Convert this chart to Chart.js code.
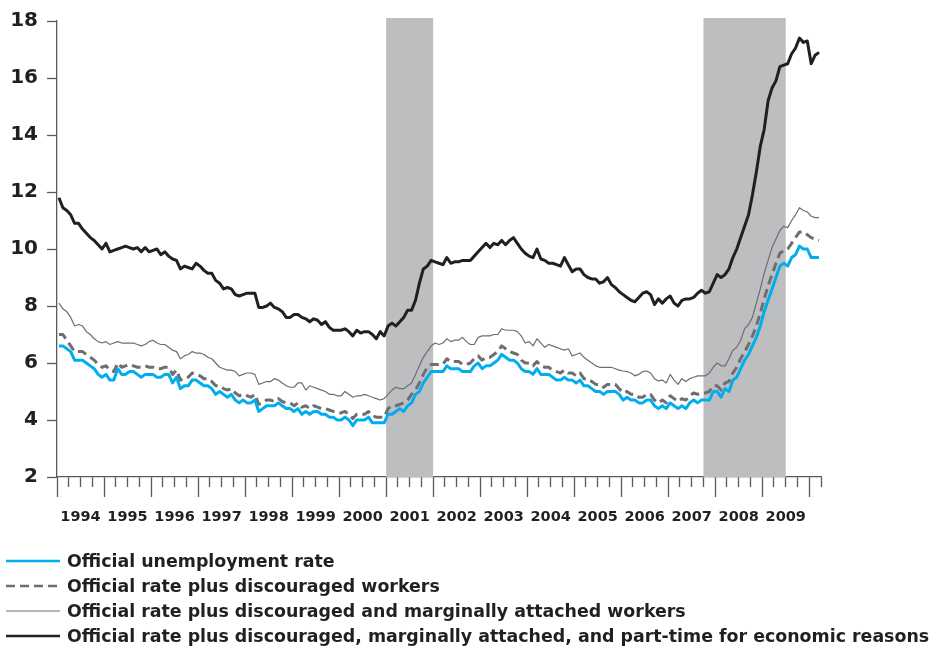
<!DOCTYPE html>
<html>
<head>
<meta charset="utf-8">
<script src="https://cdn.jsdelivr.net/npm/chart.js@4.4.1/dist/chart.umd.min.js"></script>
<style>
  body { margin: 0; background: #fff; }
  #wrap { position: relative; width: 932px; height: 648px; }
  #legend { position: absolute; left: 0; top: 548px; font: bold 17.4px "DejaVu Sans", sans-serif; color: #231f20; }
  .row { display: flex; align-items: center; height: 25px; white-space: nowrap; }
  .row svg { margin-left: 6px; margin-right: 7px; }
</style>
</head>
<body>
<div id="wrap">
  <canvas id="chart" width="932" height="648"></canvas>
  <div id="legend"></div>
</div>
<script>
// monthly, Jan 1994 .. Mar 2010
const years = ['1994', '1995', '1996', '1997', '1998', '1999', '2000', '2001',
               '2002', '2003', '2004', '2005', '2006', '2007', '2008', '2009'];

const official = [
  6.6, 6.6, 6.5, 6.4, 6.1, 6.1, 6.1, 6.0, 5.9, 5.8, 5.6, 5.5,
  5.6, 5.4, 5.4, 5.8, 5.6, 5.6, 5.7, 5.7, 5.6, 5.5, 5.6, 5.6,
  5.6, 5.5, 5.5, 5.6, 5.6, 5.3, 5.5, 5.1, 5.2, 5.2, 5.4, 5.4,
  5.3, 5.2, 5.2, 5.1, 4.9, 5.0, 4.9, 4.8, 4.9, 4.7, 4.6, 4.7,
  4.6, 4.6, 4.7, 4.3, 4.4, 4.5, 4.5, 4.5, 4.6, 4.5, 4.4, 4.4,
  4.3, 4.4, 4.2, 4.3, 4.2, 4.3, 4.3, 4.2, 4.2, 4.1, 4.1, 4.0,
  4.0, 4.1, 4.0, 3.8, 4.0, 4.0, 4.0, 4.1, 3.9, 3.9, 3.9, 3.9,
  4.2, 4.2, 4.3, 4.4, 4.3, 4.5, 4.6, 4.9, 5.0, 5.3, 5.5, 5.7,
  5.7, 5.7, 5.7, 5.9, 5.8, 5.8, 5.8, 5.7, 5.7, 5.7, 5.9, 6.0,
  5.8, 5.9, 5.9, 6.0, 6.1, 6.3, 6.2, 6.1, 6.1, 6.0, 5.8, 5.7,
  5.7, 5.6, 5.8, 5.6, 5.6, 5.6, 5.5, 5.4, 5.4, 5.5, 5.4, 5.4,
  5.3, 5.4, 5.2, 5.2, 5.1, 5.0, 5.0, 4.9, 5.0, 5.0, 5.0, 4.9,
  4.7, 4.8, 4.7, 4.7, 4.6, 4.6, 4.7, 4.7, 4.5, 4.4, 4.5, 4.4,
  4.6, 4.5, 4.4, 4.5, 4.4, 4.6, 4.7, 4.6, 4.7, 4.7, 4.7, 5.0,
  5.0, 4.8, 5.1, 5.0, 5.4, 5.5, 5.8, 6.1, 6.3, 6.6, 6.9, 7.3,
  7.8, 8.2, 8.6, 9.0, 9.4, 9.5, 9.4, 9.7, 9.8, 10.1, 10.0, 10.0,
  9.7, 9.7, 9.7
];

const plusDiscouraged = [
  7.0, 7.0, 6.8, 6.6, 6.4, 6.4, 6.4, 6.3, 6.2, 6.1, 5.95, 5.85,
  5.9, 5.75, 5.7, 6.0, 5.85, 5.9, 5.95, 5.9, 5.85, 5.85, 5.9, 5.85,
  5.85, 5.8, 5.8, 5.85, 5.85, 5.6, 5.75, 5.4, 5.5, 5.5, 5.65, 5.6,
  5.55, 5.45, 5.45, 5.35, 5.2, 5.2, 5.1, 5.05, 5.1, 4.95, 4.85, 4.9,
  4.85, 4.8, 4.9, 4.55, 4.6, 4.7, 4.7, 4.65, 4.75, 4.65, 4.6, 4.6,
  4.5, 4.6, 4.45, 4.5, 4.4, 4.5, 4.45, 4.4, 4.4, 4.35, 4.3, 4.25,
  4.25, 4.3, 4.2, 4.05, 4.2, 4.2, 4.2, 4.3, 4.15, 4.1, 4.1, 4.1,
  4.4, 4.5, 4.5, 4.55, 4.6, 4.7, 4.9, 5.05, 5.3, 5.6, 5.85, 5.95,
  5.95, 5.95, 5.95, 6.15, 6.05, 6.05, 6.05, 5.95, 5.95, 6.0, 6.15, 6.25,
  6.1, 6.2, 6.2, 6.3, 6.4, 6.6, 6.5, 6.4, 6.35, 6.3, 6.1, 6.0,
  6.0, 5.9, 6.05, 5.9, 5.85, 5.85, 5.75, 5.7, 5.65, 5.75, 5.65, 5.65,
  5.55, 5.65, 5.45, 5.45, 5.35, 5.25, 5.25, 5.15, 5.25, 5.25, 5.25, 5.1,
  4.95, 5.0, 4.9, 4.9, 4.8, 4.8, 4.9, 4.9, 4.7, 4.6, 4.7, 4.6,
  4.85, 4.75, 4.65, 4.75, 4.7, 4.85, 4.95, 4.9, 4.95, 4.95, 5.0, 5.2,
  5.2, 5.05, 5.3, 5.35, 5.65, 5.85, 6.15, 6.4, 6.65, 6.95, 7.3, 7.75,
  8.25, 8.7, 9.1, 9.5, 9.85, 9.95, 10.0, 10.2, 10.4, 10.6, 10.6, 10.5,
  10.4, 10.35, 10.3
];

const plusMarginal = [
  8.1, 7.9, 7.8, 7.6, 7.3, 7.35, 7.3, 7.1, 7.0, 6.85, 6.75, 6.7,
  6.75, 6.65, 6.7, 6.75, 6.7, 6.7, 6.7, 6.7, 6.65, 6.6, 6.65, 6.75,
  6.8, 6.7, 6.65, 6.65, 6.55, 6.45, 6.4, 6.15, 6.25, 6.3, 6.4, 6.35,
  6.35, 6.3, 6.2, 6.15, 6.0, 5.85, 5.8, 5.75, 5.75, 5.7, 5.55, 5.6,
  5.65, 5.65, 5.6, 5.25, 5.3, 5.35, 5.35, 5.45, 5.4, 5.3, 5.2, 5.15,
  5.15, 5.3, 5.3, 5.05, 5.2, 5.15, 5.1, 5.05, 5.0, 4.9, 4.9, 4.85,
  4.85, 5.0, 4.9, 4.8, 4.85, 4.85, 4.9, 4.85, 4.8, 4.75, 4.7, 4.75,
  4.9, 5.05, 5.15, 5.1, 5.1, 5.2, 5.3, 5.6, 5.9, 6.2, 6.4, 6.6,
  6.7, 6.65, 6.7, 6.85, 6.75, 6.8, 6.8, 6.9, 6.75, 6.65, 6.65, 6.9,
  6.95, 6.95, 6.95, 7.0, 7.0, 7.2, 7.15, 7.15, 7.15, 7.1, 6.95, 6.7,
  6.75, 6.6, 6.85, 6.7, 6.55, 6.65, 6.6, 6.55, 6.5, 6.45, 6.5, 6.25,
  6.3, 6.35, 6.2, 6.1, 6.0, 5.9, 5.85, 5.85, 5.85, 5.85, 5.8, 5.75,
  5.72, 5.7, 5.65, 5.55, 5.6, 5.7, 5.72, 5.65, 5.45, 5.37, 5.4, 5.3,
  5.6, 5.4, 5.25, 5.45, 5.35, 5.45, 5.5, 5.55, 5.55, 5.55, 5.65, 5.85,
  6.0, 5.9, 5.9, 6.15, 6.45, 6.55, 6.8, 7.2, 7.35, 7.6, 8.1, 8.6,
  9.15, 9.6, 10.05, 10.35, 10.65, 10.8, 10.75, 11.0, 11.2, 11.45, 11.35, 11.3,
  11.15, 11.1, 11.1
];

const plusPartTime = [
  11.8, 11.45, 11.35, 11.2, 10.9, 10.9, 10.7, 10.55, 10.4, 10.3, 10.15, 10.0,
  10.2, 9.9, 9.95, 10.0, 10.05, 10.1, 10.05, 10.0, 10.05, 9.9, 10.05, 9.9,
  9.95, 10.0, 9.8, 9.9, 9.75, 9.65, 9.6, 9.3, 9.4, 9.35, 9.3, 9.5,
  9.4, 9.25, 9.15, 9.15, 8.9, 8.8, 8.6, 8.65, 8.6, 8.4, 8.35, 8.4,
  8.45, 8.45, 8.45, 7.95, 7.95, 8.0, 8.1, 7.95, 7.9, 7.8, 7.6, 7.6,
  7.7, 7.7, 7.6, 7.55, 7.45, 7.55, 7.5, 7.35, 7.45, 7.25, 7.15, 7.15,
  7.15, 7.2, 7.1, 6.95, 7.15, 7.05, 7.1, 7.1, 7.0, 6.85, 7.1, 6.95,
  7.3, 7.4, 7.3, 7.45, 7.6, 7.85, 7.85, 8.2, 8.8, 9.3, 9.4, 9.6,
  9.55, 9.5, 9.45, 9.7, 9.5, 9.55, 9.55, 9.6, 9.6, 9.6, 9.75, 9.9,
  10.05, 10.2, 10.05, 10.2, 10.15, 10.3, 10.15, 10.3, 10.4, 10.2, 10.0, 9.85,
  9.75, 9.7, 10.0, 9.65, 9.6, 9.5, 9.5, 9.45, 9.4, 9.7, 9.45, 9.2,
  9.3, 9.3, 9.1, 9.0, 8.95, 8.95, 8.8, 8.85, 9.0, 8.75, 8.65, 8.5,
  8.4, 8.3, 8.2, 8.15, 8.3, 8.45, 8.5, 8.4, 8.05, 8.25, 8.1, 8.25,
  8.35, 8.1, 8.0, 8.2, 8.25, 8.25, 8.3, 8.45, 8.55, 8.45, 8.5, 8.8,
  9.1, 9.0, 9.1, 9.3, 9.7, 10.0, 10.4, 10.8, 11.2, 11.9, 12.7, 13.6,
  14.2, 15.2, 15.65, 15.9, 16.4, 16.45, 16.5, 16.85, 17.05, 17.4, 17.25, 17.3,
  16.5, 16.8, 16.9
];

const seriesLabels = [
  'Official unemployment rate',
  'Official rate plus discouraged workers',
  'Official rate plus discouraged and marginally attached workers',
  'Official rate plus discouraged, marginally attached, and part-time for economic reasons'
];

const yTicks = [2, 4, 6, 8, 10, 12, 14, 16, 18];

// recessions, in months since Jan 1994
const recessionStart = [84, 165];
const recessionEnd = [96, 186];

const lastMonth = 195;   // axis runs to Apr 2010
const axisColor = '#58595b';
const textColor = '#231f20';

const toPoints = arr => arr.map((v, i) => ({ x: i + 0.5, y: v }));

const recessionShading = {
  id: 'recessionShading',
  beforeDatasetsDraw(chart) {
    const { ctx, chartArea, scales } = chart;
    ctx.save();
    ctx.fillStyle = '#bcbec0';
    recessionStart.forEach((s, k) => {
      const x0 = scales.x.getPixelForValue(s);
      const x1 = scales.x.getPixelForValue(recessionEnd[k]);
      ctx.fillRect(x0, chartArea.top - 3, x1 - x0, chartArea.bottom - chartArea.top + 3);
    });
    ctx.restore();
  }
};

const tickFont = { family: 'DejaVu Sans', weight: 'bold' };

const chart = new Chart(document.getElementById('chart'), {
  type: 'line',
  data: {
    datasets: [
      { label: seriesLabels[0], data: toPoints(official), borderColor: '#00aeef', borderWidth: 3 },
      { label: seriesLabels[1], data: toPoints(plusDiscouraged), borderColor: '#6d6e71', borderWidth: 3, borderDash: [9, 5] },
      { label: seriesLabels[2], data: toPoints(plusMarginal), borderColor: '#6d6e71', borderWidth: 1.2 },
      { label: seriesLabels[3], data: toPoints(plusPartTime), borderColor: textColor, borderWidth: 3 }
    ]
  },
  options: {
    responsive: false,
    animation: false,
    events: [],
    layout: { padding: { left: 0, right: 111, top: 17, bottom: 111 } },
    elements: {
      point: { radius: 0 },
      line: { tension: 0, borderJoinStyle: 'round', fill: false }
    },
    plugins: { legend: { display: false }, tooltip: { enabled: false } },
    scales: {
      x: {
        type: 'linear', position: 'bottom', weight: 0, min: 0, max: lastMonth,
        afterBuildTicks: ax => {
          const t = [];
          for (let m = 0; m <= lastMonth; m += 3) t.push({ value: m });
          ax.ticks = t;
        },
        afterFit: ax => { ax.height = 10; },
        ticks: { display: false },
        grid: { drawOnChartArea: false, tickLength: 10, tickColor: axisColor, tickWidth: 1.3 },
        border: { color: axisColor, width: 1.3 }
      },
      xYear: {
        type: 'linear', position: 'bottom', weight: 1, min: 0, max: lastMonth,
        afterBuildTicks: ax => {
          const t = [];
          for (let m = 0; m <= lastMonth; m += 12) t.push({ value: m });
          ax.ticks = t;
        },
        afterFit: ax => { ax.height = 10; },
        ticks: { display: false },
        grid: { drawOnChartArea: false, tickLength: 10, tickColor: axisColor, tickWidth: 1.3 },
        border: { display: false }
      },
      xLabel: {
        type: 'linear', position: 'bottom', weight: 2, min: 0, max: lastMonth,
        afterBuildTicks: ax => { ax.ticks = years.map((y, k) => ({ value: k * 12 + 6 })); },
        afterFit: ax => { ax.height = 40; },
        ticks: {
          autoSkip: false, maxRotation: 0, padding: 12, color: textColor,
          font: { ...tickFont, size: 14.5 },
          callback: (v, i) => years[i]
        },
        grid: { display: false, drawTicks: false },
        border: { display: false }
      },
      y: {
        min: 2, max: 18,
        afterBuildTicks: ax => { ax.ticks = yTicks.map(v => ({ value: v })); },
        afterFit: ax => { ax.width = 57; },
        ticks: { padding: 9, color: textColor, font: { ...tickFont, size: 20 } },
        grid: { drawOnChartArea: false, tickLength: 10, tickColor: axisColor, tickWidth: 1.3 },
        border: { color: axisColor, width: 1.3 }
      }
    }
  },
  plugins: [recessionShading]
});

// legend rows below the plot
const legend = document.getElementById('legend');
chart.data.datasets.forEach(ds => {
  const row = document.createElement('div');
  row.className = 'row';
  const dash = ds.borderDash ? ds.borderDash.join(' ') : 'none';
  row.innerHTML =
    '<svg width="54" height="6"><line x1="0" y1="3" x2="54" y2="3" stroke="' + ds.borderColor +
    '" stroke-width="' + Math.min(ds.borderWidth, 2.5) + '" stroke-dasharray="' + dash + '"/></svg>' +
    '<span>' + ds.label + '</span>';
  legend.appendChild(row);
});
</script>
</body>
</html>
